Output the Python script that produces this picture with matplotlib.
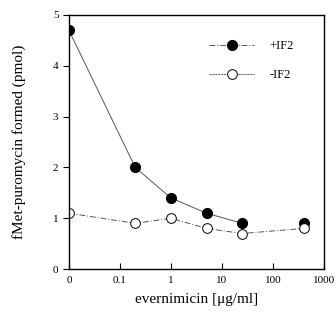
import matplotlib.pyplot as plt
import numpy as np

plt.rcParams['font.family'] = ['Liberation Serif', 'DejaVu Serif']

# evernimicin concentration (ug/ml); 0 is drawn at the 0.01 position of the log axis
conc = [0, 0.2, 1, 5, 25, 400]
plus_if2 = [4.7, 2.0, 1.4, 1.1, 0.9, 0.9]
minus_if2 = [1.1, 0.9, 1.0, 0.8, 0.7, 0.8]
xticks = [0.01, 0.1, 1, 10, 100, 1000]
xticklabels = ['0', '0.1', '1', '10', '100', '1000']

x = np.array([c if c > 0 else 0.01 for c in conc])

fig = plt.figure(figsize=(3.36, 3.25), dpi=100)
ax = fig.add_axes([0.205, 0.172, 0.759, 0.782])

# +IF2: line only through the first five points
ax.plot(x[:5], plus_if2[:5], '-', color='#555555', lw=0.7)
ax.plot(x, plus_if2, 'o', color='black', ms=7, mfc='black', mec='black')
ax.plot(x, minus_if2, '-.', color='#555555', lw=0.7, dashes=(6, 2, 1, 2))
ax.plot(x, minus_if2, 'o', color='black', ms=7, mfc='white', mec='black', mew=0.7)

# legend drawn by hand
h1, = ax.plot([], [], '-.', color='#555555', lw=0.7, marker='o', ms=7,
              mfc='black', mec='black', dashes=(6, 2, 1, 2))
h2, = ax.plot([], [], '-.', color='#555555', lw=0.7, marker='o', ms=7,
              mfc='white', mec='black', mew=0.7, dashes=(2, 1, 2, 1))
ax.legend([h1, h2], ['+IF2', '-IF2'], loc='upper right', frameon=False,
          fontsize=9, handlelength=3.6, handletextpad=1.2, labelspacing=1.4,
          bbox_to_anchor=(0.926, 0.946))

ax.set_xscale('log')
ax.set_xlim(0.01, 1000)
ax.set_ylim(0, 5)
ax.set_xticks(xticks)
ax.set_xticklabels(xticklabels)
ax.minorticks_off()
ax.set_yticks([0, 1, 2, 3, 4, 5])
ax.tick_params(axis='x', direction='in', length=4, labelsize=8, pad=5)
ax.tick_params(axis='y', direction='out', length=4, labelsize=8)
for s in ax.spines.values():
    s.set_linewidth(1.0)

ax.set_xlabel('evernimicin [\u03bcg/ml]', fontsize=11, labelpad=6)
ax.set_ylabel('fMet-puromycin formed (pmol)', fontsize=11, labelpad=19)

plt.savefig('out.png', dpi=100)
